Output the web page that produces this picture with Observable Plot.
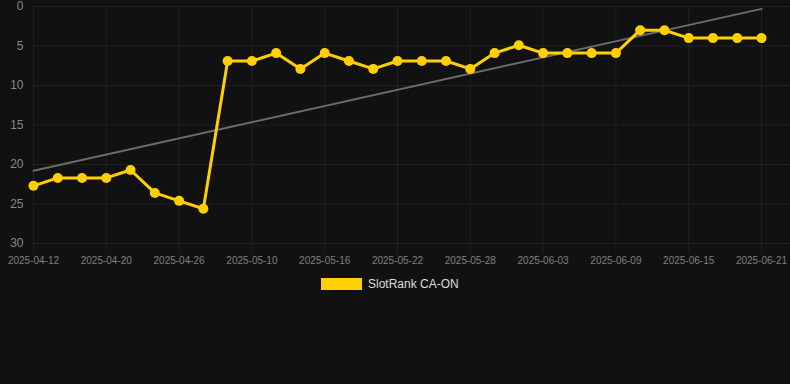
<!DOCTYPE html>
<html>
<head>
<meta charset="utf-8">
<script src="https://cdn.jsdelivr.net/npm/d3@7"></script>
<script src="https://cdn.jsdelivr.net/npm/@observablehq/plot@0.6"></script>
<style>
  html, body { margin: 0; padding: 0; background: #111111; }
  body { width: 790px; height: 384px; overflow: hidden; font-family: "Liberation Sans", Arial, Helvetica, sans-serif; }
  #legend { display: flex; justify-content: flex-start; align-items: center; margin-top: 8px; padding-left: 321px; height: 12px; }
  #legend .sw { width: 41px; height: 12px; background: #FFD000; margin-right: 6px; }
  #legend .lb { font-size: 12px; line-height: 12px; color: #dddddd; }
</style>
</head>
<body>
<div id="chart"></div>
<div id="legend"><div class="sw"></div><div class="lb"></div></div>
<script>
const seriesName = "SlotRank CA-ON";
const dates = [
  "2025-04-12","2025-04-15","2025-04-17","2025-04-20","2025-04-22","2025-04-24","2025-04-26",
  "2025-04-28","2025-05-08","2025-05-10","2025-05-12","2025-05-14","2025-05-16","2025-05-18",
  "2025-05-20","2025-05-22","2025-05-24","2025-05-26","2025-05-28","2025-05-30","2025-06-01",
  "2025-06-03","2025-06-05","2025-06-07","2025-06-09","2025-06-11","2025-06-13","2025-06-15",
  "2025-06-17","2025-06-19","2025-06-21"
];
const ranks = [
  22.7, 21.7, 21.7, 21.7, 20.7, 23.6, 24.6, 25.6, 6.9, 6.9,
  5.9, 7.9, 5.9, 6.9, 7.9, 6.9, 6.9, 6.9, 7.9, 5.9,
  4.9, 5.9, 5.9, 5.9, 5.9, 3.0, 3.0, 4.0, 4.0, 4.0, 4.0
];
const trendStart = 20.8;
const trendEnd = 0.3;
const xTickLabels = [
  "2025-04-12","2025-04-20","2025-04-26","2025-05-10","2025-05-16","2025-05-22",
  "2025-05-28","2025-06-03","2025-06-09","2025-06-15","2025-06-21"
];
const yTicks = [0, 5, 10, 15, 20, 25, 30];

const data = dates.map((d, i) => ({date: d, rank: ranks[i]}));
const trend = [
  {date: dates[0], rank: trendStart},
  {date: dates[dates.length - 1], rank: trendEnd}
];

const gridColor = "#202020";
const gold = "#FFD000";

const chart = Plot.plot({
  width: 790,
  height: 270,
  marginLeft: 33,
  marginRight: 0,
  marginTop: 6,
  marginBottom: 27,
  style: {background: "#111111", fontFamily: "'Liberation Sans', Arial, Helvetica, sans-serif", overflow: "visible"},
  x: {type: "point", domain: dates, range: [33, 761], padding: 0, round: false, label: null},
  y: {domain: [0, 30], reverse: true, label: null},
  marks: [
    Plot.gridY(yTicks, {stroke: gridColor, strokeOpacity: 1}),
    Plot.gridX(xTickLabels, {stroke: gridColor, strokeOpacity: 1}),
    Plot.axisY(yTicks, {tickSize: 0, tickPadding: 10, fontSize: 12, fill: "#888888", label: null}),
    Plot.axisX(xTickLabels, {tickSize: 10, tickPadding: 3, fontSize: 10, fill: "#808080", stroke: gridColor, label: null}),
    Plot.line(trend, {x: "date", y: "rank", stroke: "#6b6b6b", strokeWidth: 2}),
    Plot.line(data, {x: "date", y: "rank", stroke: gold, strokeWidth: 3, strokeLinejoin: "round"}),
    Plot.dot(data, {x: "date", y: "rank", r: 5, fill: gold, stroke: "none"})
  ]
});
document.getElementById("chart").appendChild(chart);
document.querySelector("#legend .lb").textContent = seriesName;
</script>
</body>
</html>
